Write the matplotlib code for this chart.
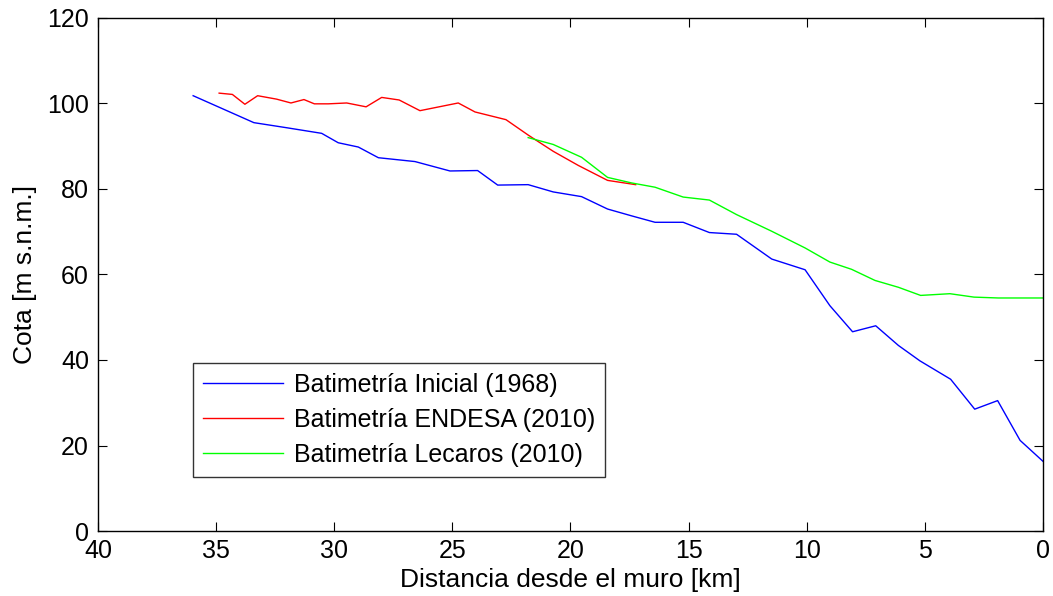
import matplotlib
matplotlib.use("Agg")
import matplotlib.pyplot as plt

plt.rcParams['font.family'] = ['Liberation Sans', 'DejaVu Sans']

# Batimetría Inicial (1968)
x_ini = [35.97, 33.4, 32.0, 30.53, 29.83, 28.98, 28.13, 26.58, 25.1, 23.93, 23.08,
         21.79, 20.73, 19.53, 18.43, 17.41, 16.42, 15.23, 14.12, 12.97, 11.48,
         10.07, 9.02, 8.06, 7.08, 6.12, 5.21, 3.91, 2.89, 1.92, 0.97, 0.0]
y_ini = [101.8, 95.5, 94.3, 93.0, 90.8, 89.8, 87.3, 86.4, 84.2, 84.3, 80.9,
         81.0, 79.3, 78.2, 75.3, 73.7, 72.2, 72.2, 69.8, 69.4, 63.6,
         61.1, 52.7, 46.6, 48.0, 43.4, 39.8, 35.5, 28.5, 30.5, 21.2, 16.3]

# Batimetría ENDESA (2010)
x_end = [34.87, 34.31, 33.78, 33.24, 32.44, 31.83, 31.28, 30.84, 30.25, 29.47,
         28.65, 27.99, 27.25, 26.37, 24.75, 24.04, 22.73, 21.79, 20.73, 19.67,
         18.43, 17.24]
y_end = [102.4, 102.1, 99.8, 101.8, 101.0, 100.1, 100.9, 99.9, 99.9, 100.1,
         99.2, 101.4, 100.8, 98.3, 100.1, 98.0, 96.2, 92.6, 88.8, 85.5,
         82.0, 81.0]

# Batimetría Lecaros (2010)
x_lec = [21.79, 20.73, 19.53, 18.43, 17.41, 16.42, 15.23, 14.12, 12.97, 11.48,
         10.07, 9.02, 8.1, 7.11, 6.12, 5.18, 3.94, 2.92, 1.89, 0.97, 0.0]
y_lec = [92.0, 90.4, 87.4, 82.7, 81.4, 80.4, 78.1, 77.4, 74.0, 70.1,
         66.2, 62.9, 61.2, 58.6, 57.0, 55.1, 55.5, 54.7, 54.5, 54.5, 54.5]

labels = ['Batimetría Inicial (1968)', 'Batimetría ENDESA (2010)',
          'Batimetría Lecaros (2010)']

FS = 18

fig = plt.figure(figsize=(10.53, 5.96), dpi=100)
ax = fig.add_axes([0.093, 0.109, 0.8975, 0.861])

ax.plot(x_ini, y_ini, color=(0, 0, 1), lw=1.0, label=labels[0])
ax.plot(x_end, y_end, color=(1, 0, 0), lw=1.0, label=labels[1])
ax.plot(x_lec, y_lec, color=(0, 1, 0), lw=1.0, label=labels[2])

ax.set_xlim(40, 0)
ax.set_ylim(0, 120)
ax.set_xticks(range(0, 41, 5))
ax.set_yticks(range(0, 121, 20))
ax.tick_params(direction='in', top=True, right=True, length=6.3, width=0.8,
               labelsize=FS)
ax.tick_params(axis='y', pad=6.5)
ax.tick_params(axis='x', pad=6)
for s in ax.spines.values():
    s.set_linewidth(1.0)

ax.set_xlabel('Distancia desde el muro [km]', fontsize=19, labelpad=3)
ax.set_ylabel('Cota [m s.n.m.]', fontsize=19, labelpad=7)

leg = ax.legend(loc='lower left', bbox_to_anchor=(0.1005, 0.105), fontsize=FS,
                frameon=True, fancybox=False, edgecolor='black',
                borderaxespad=0, handlelength=3.2, handletextpad=0.45,
                borderpad=0.4, labelspacing=0.45)
leg.get_frame().set_linewidth(1.0)

fig.savefig('out.png', dpi=100)
